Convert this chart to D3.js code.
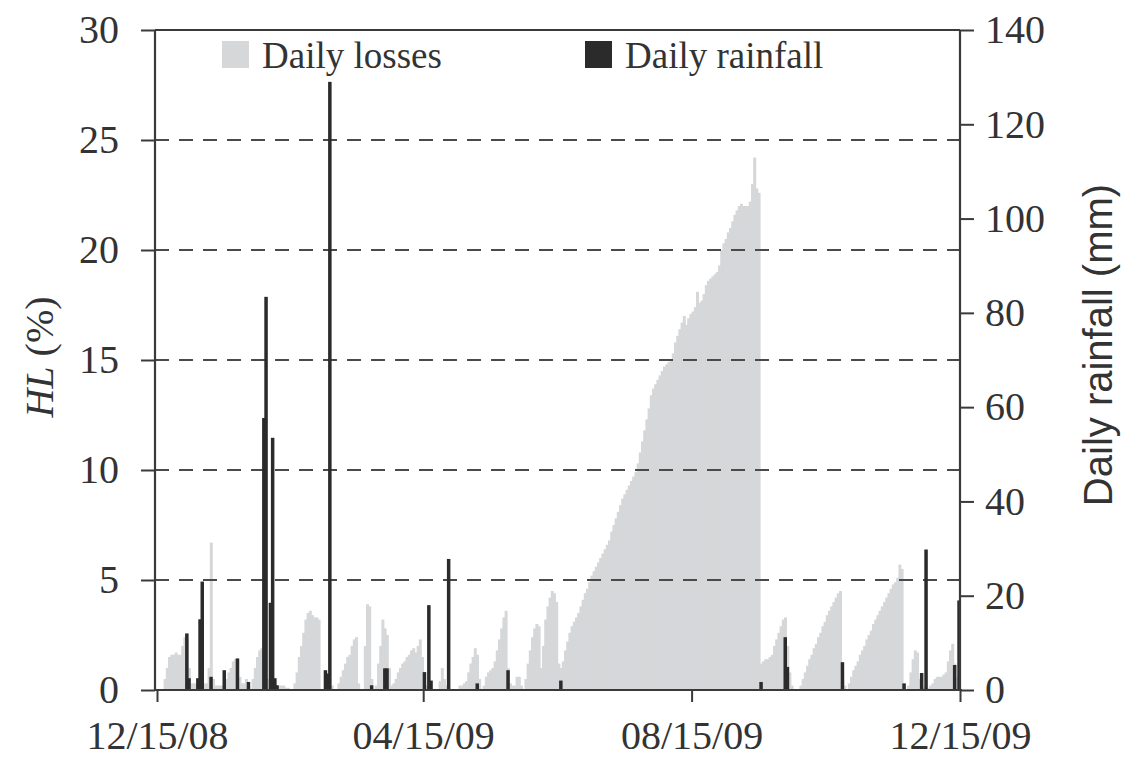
<!DOCTYPE html>
<html>
<head>
<meta charset="utf-8">
<script src="https://cdn.jsdelivr.net/npm/d3@7"></script>
<style>
  html, body { margin: 0; padding: 0; background: #fff; }
  svg { display: block; }
</style>
</head>
<body>
<svg id="chart" width="1124" height="762"></svg>
<script>
// ---------- DATA ----------
const startDate = "2008-12-15";
const endDate = "2009-12-15";
// Daily losses HL (%) for each day starting 12/15/08
const dailyLosses = [
  0, 0, 0, 0.5, 1.0, 1.5, 1.6, 1.6, 1.7, 1.6,
  1.6, 2.0, 2.4, 2.3, 1.0, 0.3, 0.3, 0.3, 0.3, 0.3,
  0.3, 0.3, 0.3, 1.0, 6.7, 0.5, 0.2, 0.2, 0.2, 0.2,
  0.3, 0.5, 0.8, 1.0, 1.3, 1.4, 1.4, 0.6, 0.3, 0.3,
  0.5, 0.2, 0, 0.5, 1.0, 1.5, 1.8, 1.9, 0.5, 0.5,
  0.5, 0.5, 0.5, 0.3, 0.2, 0.2, 0.2, 0.2, 0.1, 0.1,
  0, 0, 0.3, 0.8, 1.5, 2.0, 2.6, 3.2, 3.5, 3.6,
  3.4, 3.3, 3.3, 3.2, 0, 0, 0, 0.2, 0.2, 0.2,
  0, 0, 0.3, 0.6, 0.9, 1.2, 1.5, 1.6, 2.0, 2.3,
  2.4, 0.3, 0, 0, 2.0, 3.9, 3.8, 0.5, 0, 0.2,
  1.2, 2.0, 3.2, 2.8, 2.5, 1.0, 0.2, 0.3, 0.5, 0.8,
  1.0, 1.2, 1.3, 1.5, 1.6, 1.8, 1.9, 1.7, 2.0, 2.3,
  1.5, 0.3, 0.2, 0.2, 0.1, 0, 0, 0, 0.4, 1.0,
  0.5, 0.2, 0, 0, 0, 0, 0, 0.2, 0.2, 0.3,
  0.4, 0.8, 1.2, 1.5, 1.9, 1.6, 0.5, 0, 0.2, 0.6,
  0.8, 0.9, 1.0, 1.3, 1.8, 2.3, 2.8, 3.3, 3.6, 1.0,
  0.3, 0.2, 0.2, 0.6, 0.6, 0.2, 0, 0.5, 1.2, 1.8,
  2.4, 2.8, 3.0, 2.9, 1.0, 2.0, 3.2, 3.8, 4.2, 4.5,
  4.4, 4.0, 1.2, 1.0, 1.3, 1.8, 2.2, 2.6, 2.9, 3.1,
  3.3, 3.5, 3.8, 4.1, 4.4, 4.6, 4.9, 5.2, 5.4, 5.6,
  5.8, 6.0, 6.2, 6.4, 6.6, 6.8, 7.2, 7.5, 7.8, 8.1,
  8.4, 8.7, 8.9, 9.1, 9.3, 9.5, 9.7, 9.9, 10.3, 10.8,
  11.3, 11.8, 12.3, 12.8, 13.4, 13.7, 13.9, 14.1, 14.3, 14.5,
  14.7, 14.8, 14.9, 15.0, 15.3, 15.8, 16.1, 16.4, 16.7, 17.0,
  16.6, 16.9, 17.1, 17.2, 17.4, 18.1, 17.6, 17.7, 18.0, 18.4,
  18.6, 18.7, 18.8, 18.9, 19.0, 19.3, 20.0, 20.3, 20.5, 20.8,
  21.0, 21.3, 21.6, 21.8, 22.0, 22.1, 22.0, 22.0, 22.0, 22.2,
  23.0, 24.2, 22.8, 22.6, 1.2, 1.3, 1.4, 1.4, 1.5, 1.6,
  2.0, 2.3, 2.6, 2.9, 3.2, 3.3, 2.0, 0.8, 0.2, 0,
  0, 0, 0.2, 0.5, 0.8, 1.1, 1.4, 1.6, 1.9, 2.1,
  2.4, 2.6, 2.9, 3.1, 3.4, 3.6, 3.8, 4.0, 4.2, 4.4,
  4.5, 0.5, 0.2, 0, 0.3, 0.6, 0.9, 1.1, 1.3, 1.6,
  1.8, 2.0, 2.3, 2.5, 2.7, 3.0, 3.2, 3.4, 3.6, 3.8,
  4.0, 4.2, 4.4, 4.6, 4.8, 4.9, 5.1, 5.7, 5.5, 0.3,
  0, 0.2, 0.8, 1.4, 1.8, 1.7, 0.5, 0.2, 0.1, 0.1,
  0.1, 0.2, 0.3, 0.5, 0.6, 0.6, 0.6, 0.7, 0.8, 1.3,
  1.8, 2.1, 1.2, 0.6, 0.3, 0
];
// Daily rainfall (mm): day offset from 12/15/08 and amount
const rainDay = [13, 14, 18, 19, 20, 24, 30, 36, 41, 48, 49, 51, 52, 53, 54,
  76, 77, 78, 97, 103, 104, 121, 123, 124, 132, 145, 159, 183,
  274, 285, 286, 311, 339, 347, 349, 362, 364];
const rainMm = [12, 2.5, 2.5, 15, 23, 2.8, 4.2, 6.7, 1.7, 57.7, 83.4, 18.5, 53.5, 2.5, 1.0,
  4.2, 3.5, 129, 1.0, 4.6, 4.6, 3.8, 18, 2, 27.8, 1.4, 4.2, 2,
  1.7, 11.2, 4.9, 5.9, 1.4, 3.6, 29.8, 5.3, 19];

const leftTicks = [0, 5, 10, 15, 20, 25, 30];
const rightTicks = [0, 20, 40, 60, 80, 100, 120, 140];
const xTickDates = ["2008-12-15", "2009-04-15", "2009-08-15", "2009-12-15"];
const xTickLabels = ["12/15/08", "04/15/09", "08/15/09", "12/15/09"];
const legendLabels = ["Daily losses", "Daily rainfall"];

// ---------- CHART ----------
const svg = d3.select("#chart");
const parse = d3.utcParse("%Y-%m-%d");
const t0 = parse(startDate), t1 = parse(endDate);

const L = 155, R = 960, T = 30, B = 690;
const x = d3.scaleUtc().domain([t0, t1]).range([157, 960]);
const yL = d3.scaleLinear().domain([0, 30]).range([B, T]);
const yR = d3.scaleLinear().domain([0, 140]).range([B, T]);

const serif = "'Liberation Serif', 'Times New Roman', serif";
const sans = "'Liberation Sans', Arial, sans-serif";
const axisColor = "#3a3a3a";
const lossColor = "#d5d7d9";
const rainColor = "#2b2b2b";

// losses bars
const lossData = dailyLosses.map((v, i) => ({ d: d3.utcDay.offset(t0, i), v }));
svg.append("g").selectAll("rect").data(lossData).join("rect")
  .attr("x", d => x(d.d))
  .attr("width", d => x(d3.utcDay.offset(d.d, 1)) - x(d.d) + 0.8)
  .attr("y", d => yL(d.v))
  .attr("height", d => B - yL(d.v))
  .attr("fill", lossColor);

// gridlines (dashed)
svg.append("g").selectAll("line").data(leftTicks.filter(v => v > 0 && v < 30)).join("line")
  .attr("x1", L).attr("x2", R)
  .attr("y1", d => yL(d)).attr("y2", d => yL(d))
  .attr("stroke", "#4a4a4a").attr("stroke-width", 2.2)
  .attr("stroke-dasharray", "14,10");

// rain bars
const rainData = rainDay.map((d, i) => ({ d: d3.utcDay.offset(t0, d), v: rainMm[i] }));
svg.append("g").selectAll("rect").data(rainData).join("rect")
  .attr("x", d => x(d.d) - 0.5)
  .attr("width", 3.5)
  .attr("y", d => yR(d.v))
  .attr("height", d => B - yR(d.v))
  .attr("fill", rainColor);

// frame lines
svg.append("line").attr("x1", L).attr("x2", R).attr("y1", T).attr("y2", T)
  .attr("stroke", axisColor).attr("stroke-width", 2.2);

// left axis
const gL = svg.append("g").attr("transform", `translate(${L},0)`)
  .call(d3.axisLeft(yL).tickValues(leftTicks).tickSize(14).tickPadding(22));
// right axis
const gR = svg.append("g").attr("transform", `translate(${R},0)`)
  .call(d3.axisRight(yR).tickValues(rightTicks).tickSize(14).tickPadding(11));
// bottom axis
const gB = svg.append("g").attr("transform", `translate(0,${B})`)
  .call(d3.axisBottom(x).tickValues(xTickDates.map(parse))
    .tickFormat((d, i) => xTickLabels[i]).tickSize(12).tickPadding(19));

[gL, gR, gB].forEach(g => {
  g.select(".domain").attr("stroke", axisColor).attr("stroke-width", 2.2);
  g.selectAll(".tick line").attr("stroke", axisColor).attr("stroke-width", 2);
  g.selectAll("text").attr("font-family", serif).attr("font-size", 40).attr("fill", "#333");
});
gB.select(".domain").attr("d", `M${L},0H${R + 2}`);
gL.select(".domain").attr("d", `M0,${B}V${T}`);
gR.select(".domain").attr("d", `M0,${B}V${T}`);
gB.selectAll("text").attr("dy", "0.71em");

// axis titles
const lt = svg.append("text")
  .attr("transform", "translate(53,357) rotate(-90)")
  .attr("text-anchor", "middle")
  .attr("font-family", serif).attr("font-size", 40).attr("fill", "#333");
lt.append("tspan").attr("font-style", "italic").text("HL");
lt.append("tspan").text(" (%)");

svg.append("text")
  .attr("transform", "translate(1112,345) rotate(-90)")
  .attr("text-anchor", "middle")
  .attr("font-family", sans).attr("font-size", 40).attr("fill", "#333")
  .text("Daily rainfall (mm)");

// legend
const legendColors = [lossColor, rainColor];
const legendX = [222, 585];
const lg = svg.append("g");
legendLabels.forEach((lab, i) => {
  lg.append("rect").attr("x", legendX[i]).attr("y", 41).attr("width", 27).attr("height", 27)
    .attr("fill", legendColors[i]);
  lg.append("text").attr("x", legendX[i] + 40).attr("y", 68)
    .attr("font-family", serif).attr("font-size", 37).attr("fill", "#333").text(lab);
});
</script>
</body>
</html>
